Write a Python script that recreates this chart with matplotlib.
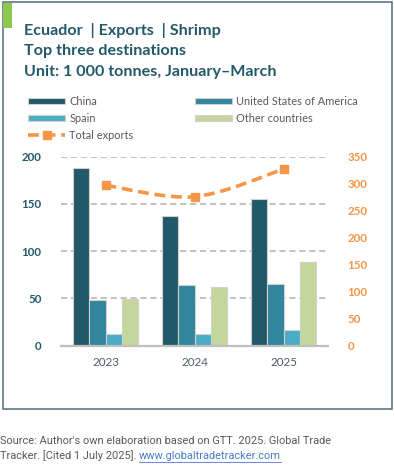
import numpy as np
import matplotlib
matplotlib.use("Agg")
import matplotlib.pyplot as plt
from matplotlib.patches import Rectangle, Patch, PathPatch
from matplotlib.lines import Line2D
from matplotlib.path import Path

# data (1 000 tonnes, January-March)
years = ["2023", "2024", "2025"]
china = [188, 137, 155]
usa = [48, 64, 65]
spain = [12, 12, 17]
other = [49, 62, 89]
total = [297, 276, 327]

series_names = ["China", "United States of America", "Spain", "Other countries"]
series_colors = ["#215968", "#31859C", "#4BACC6", "#C3D69B"]

TITLE_C = "#23596A"
ORANGE = "#F79646"
W, H = 394, 469

plt.rcParams["font.family"] = ["Lato", "DejaVu Sans"]

fig = plt.figure(figsize=(W / 100, H / 100), dpi=100)


def fx(px):
    return px / W


def fy(py):
    return 1 - py / H


# frame and green tab
fig.add_artist(Rectangle((fx(2.5), fy(409)), fx(389.5), 407 / H, transform=fig.transFigure,
                         fill=False, edgecolor="#4F6D79", lw=1.1))
fig.add_artist(Rectangle((fx(3), fy(28)), fx(9), 25 / H, transform=fig.transFigure,
                         facecolor="#8CC84B", edgecolor="none"))

# titles
for i, t in enumerate(["Ecuador  | Exports  | Shrimp", "Top three destinations",
                       "Unit: 1 000 tonnes, January\u2013March"]):
    fig.text(fx(24), fy(30 + 21 * i), t, fontsize=11.6, fontweight="bold",
             color=TITLE_C, va="center", ha="left")

# axes
ax = fig.add_axes([fx(61), fy(345.7), fx(267), 189 / H])
ax2 = ax.twinx()

x = np.arange(len(years))
bw = 0.183
all_vals = [china, usa, spain, other]
for k, (vals, col) in enumerate(zip(all_vals, series_colors)):
    ax.bar(x + (k - 1.5) * bw, vals, bw, color=col, edgecolor="#D0D0D0", lw=0.8, zorder=3)

ax.set_xlim(-0.5, 2.5)
ax.set_ylim(0, 200)
ax.set_yticks([0, 50, 100, 150, 200])
ax.set_xticks(x)
ax.set_xticklabels(years)
ax.yaxis.grid(True, color="#B0B0B0", ls=(0, (4, 2.5)), lw=1.1, zorder=0)
for s in ["top", "right", "left"]:
    ax.spines[s].set_visible(False)
ax.spines["bottom"].set_color("#BFBFBF")
ax.spines["bottom"].set_linewidth(1.6)
ax.spines["bottom"].set_zorder(4)
ax.tick_params(axis="y", length=0, pad=14, labelsize=8.3, labelcolor=TITLE_C)
ax.tick_params(axis="x", length=0, pad=8, labelsize=8.4, labelcolor="#4A5E6A")
for lab in ax.get_yticklabels():
    lab.set_fontweight("bold")

ax2.set_ylim(0, 350)
ax2.set_yticks(np.arange(0, 351, 50))
ax2.tick_params(axis="y", length=0, pad=14, labelsize=8.3, labelcolor=ORANGE)
for lab in ax2.get_yticklabels():
    lab.set_fontweight("bold")
for s in ax2.spines.values():
    s.set_visible(False)

# smoothed total line (bezier through the points)
pts = np.column_stack([x, total]).astype(float)
ext = np.vstack([pts[0], pts, pts[-1]])
verts = [tuple(pts[0])]
codes = [Path.MOVETO]
for i in range(len(pts) - 1):
    p0, p1, p2, p3 = ext[i], ext[i + 1], ext[i + 2], ext[i + 3]
    c1 = p1 + (p2 - p0) / 6
    c2 = p2 - (p3 - p1) / 6
    verts += [tuple(c1), tuple(c2), tuple(p2)]
    codes += [Path.CURVE4] * 3
ax2.add_patch(PathPatch(Path(verts, codes), fill=False, edgecolor=ORANGE, lw=2.6,
                        ls=(0, (3, 1.6)), zorder=5))
ax2.plot(x, total, ls="none", marker="s", ms=5.5, color=ORANGE, zorder=6)

# legend
handles = [Patch(facecolor=series_colors[0], edgecolor="#D0D0D0", lw=0.8),
           Patch(facecolor=series_colors[2], edgecolor="#D0D0D0", lw=0.8),
           Line2D([], [], color=ORANGE, lw=2.6, ls=(0, (3, 1.6)), marker="s", ms=5.5),
           Patch(facecolor=series_colors[1], edgecolor="#D0D0D0", lw=0.8),
           Patch(facecolor=series_colors[3], edgecolor="#D0D0D0", lw=0.8)]
labels = ["China", "Spain", "Total exports", "United States of America", "Other countries"]
leg = fig.legend(handles, labels, ncol=2, loc="upper left",
                 bbox_to_anchor=(fx(28), fy(96)), frameon=False, fontsize=7.9,
                 handlelength=3.4, handleheight=0.55, handletextpad=0.35,
                 labelspacing=0.55, columnspacing=5.6, borderaxespad=0, borderpad=0)
for t in leg.get_texts():
    t.set_color("#595959")

# source
src_font = dict(fontsize=7.9, family=["Roboto", "DejaVu Sans"], va="center")
fig.text(0, fy(441), "Source: Author's own elaboration based on GTT. 2025. Global Trade",
         color="#595959", **src_font)
t1 = fig.text(0, fy(456), "Tracker. [Cited 1 July 2025]. ", color="#595959", **src_font)
fig.canvas.draw()
bb = t1.get_window_extent()
t2 = fig.text(bb.x1 / W, fy(456), "www.globaltradetracker.com", color="#4A7BD0", **src_font)
fig.canvas.draw()
bb2 = t2.get_window_extent()
fig.add_artist(Line2D([bb2.x0 / W, bb2.x1 / W], [fy(462), fy(462)], color="#4A7BD0", lw=0.6,
                      transform=fig.transFigure))

fig.savefig("out.png", dpi=100)
